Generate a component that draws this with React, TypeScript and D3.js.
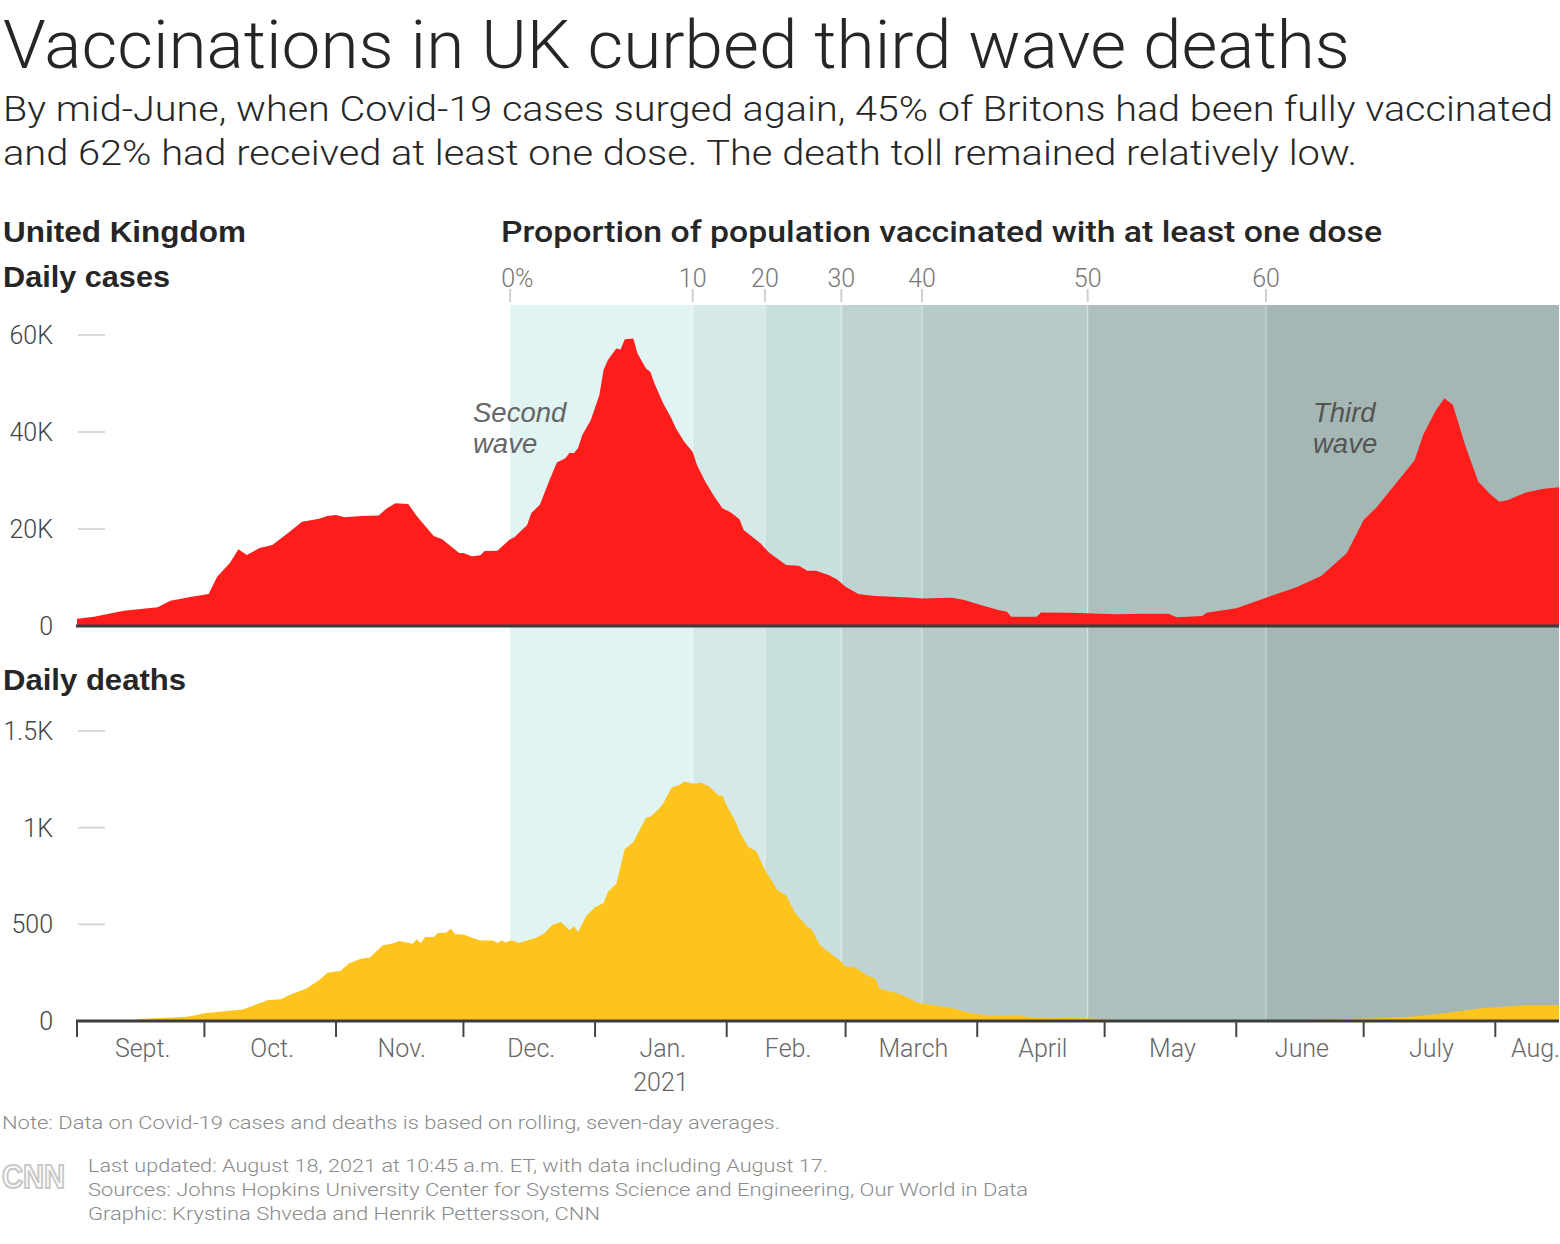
import React from "react";
import * as d3 from "d3";

const caseDates = [
  "2020-09-01","2020-09-05","2020-09-12","2020-09-20","2020-09-23","2020-09-28","2020-10-02","2020-10-04","2020-10-07","2020-10-09",
  "2020-10-11","2020-10-14","2020-10-17","2020-10-21","2020-10-24","2020-10-28","2020-10-30","2020-11-01","2020-11-03","2020-11-07",
  "2020-11-11","2020-11-13","2020-11-15","2020-11-18","2020-11-20","2020-11-24","2020-11-26","2020-11-30","2020-12-01","2020-12-03",
  "2020-12-05","2020-12-06","2020-12-09","2020-12-12","2020-12-13","2020-12-16","2020-12-17","2020-12-19","2020-12-21","2020-12-23",
  "2020-12-25","2020-12-26","2020-12-27","2020-12-28","2020-12-29","2020-12-31","2021-01-02","2021-01-03","2021-01-04","2021-01-06",
  "2021-01-07","2021-01-08","2021-01-10","2021-01-11","2021-01-13","2021-01-14","2021-01-15","2021-01-17","2021-01-19","2021-01-20",
  "2021-01-22","2021-01-24","2021-01-25","2021-01-27","2021-01-29","2021-01-31","2021-02-02","2021-02-04","2021-02-05","2021-02-09",
  "2021-02-11","2021-02-15","2021-02-18","2021-02-20","2021-02-22","2021-02-25","2021-02-27","2021-03-01","2021-03-04","2021-03-08",
  "2021-03-12","2021-03-16","2021-03-19","2021-03-26","2021-03-29","2021-04-02","2021-04-06","2021-04-08","2021-04-09","2021-04-15",
  "2021-04-16","2021-04-23","2021-05-04","2021-05-10","2021-05-16","2021-05-18","2021-05-24","2021-05-25","2021-06-01","2021-06-08",
  "2021-06-15","2021-06-21","2021-06-27","2021-07-01","2021-07-04","2021-07-07","2021-07-13","2021-07-15","2021-07-18","2021-07-20",
  "2021-07-22","2021-07-25","2021-07-28","2021-07-31","2021-08-02","2021-08-04","2021-08-08","2021-08-12","2021-08-16",
];
const caseValues = [
  1500,1900,3150,3850,5200,6050,6600,10150,13000,15850,
  14650,16100,16700,19400,21500,22100,22700,22900,22400,22700,
  22800,24300,25300,25150,22700,18550,17900,15050,15050,14400,
  14600,15450,15500,17900,18300,20800,23300,25000,29500,33700,
  34600,35700,35600,36700,39400,42500,47600,52800,54800,57200,
  57000,59100,59300,56200,53100,52400,50000,46000,42800,40800,
  38000,35900,33200,29700,26800,24300,23400,22000,19800,17000,
  15100,12600,12400,11400,11400,10500,9600,8100,6600,6200,
  6050,5900,5650,5850,5350,4300,3300,2950,1900,1900,
  2800,2750,2400,2550,2550,1800,2050,2750,3650,5850,
  7950,10300,15000,21850,24450,27700,34200,39400,44500,46950,
  45600,37000,29750,27000,25600,26000,27500,28250,28600,
];

const deathDates = [
  "2020-09-01","2020-09-14","2020-09-16","2020-09-27","2020-10-01","2020-10-10","2020-10-16","2020-10-19","2020-10-21","2020-10-25",
  "2020-10-28","2020-10-30","2020-11-02","2020-11-04","2020-11-07","2020-11-09","2020-11-12","2020-11-14","2020-11-16","2020-11-19",
  "2020-11-20","2020-11-21","2020-11-22","2020-11-24","2020-11-25","2020-11-27","2020-11-28","2020-11-29","2020-12-01","2020-12-03",
  "2020-12-05","2020-12-08","2020-12-09","2020-12-10","2020-12-11","2020-12-12","2020-12-13","2020-12-14","2020-12-18","2020-12-20",
  "2020-12-22","2020-12-24","2020-12-26","2020-12-27","2020-12-28","2020-12-30","2021-01-01","2021-01-03","2021-01-04","2021-01-06",
  "2021-01-08","2021-01-10","2021-01-13","2021-01-14","2021-01-16","2021-01-17","2021-01-19","2021-01-21","2021-01-22","2021-01-24",
  "2021-01-26","2021-01-28","2021-01-30","2021-01-31","2021-02-01","2021-02-03","2021-02-04","2021-02-06","2021-02-08","2021-02-10",
  "2021-02-13","2021-02-15","2021-02-17","2021-02-20","2021-02-21","2021-02-23","2021-02-27","2021-02-28","2021-03-01","2021-03-03",
  "2021-03-06","2021-03-08","2021-03-09","2021-03-14","2021-03-18","2021-03-25","2021-03-28","2021-03-30","2021-04-05","2021-04-10",
  "2021-04-14","2021-04-27","2021-05-03","2021-06-16","2021-06-25","2021-07-04","2021-07-12","2021-07-21","2021-07-28","2021-08-03",
  "2021-08-08","2021-08-16",
];
const deathValues = [
  3,5,10,22,40,60,108,112,134,168,
  211,249,259,297,323,328,392,400,414,400,
  421,404,435,435,455,457,478,450,448,431,
  417,416,404,416,406,417,414,404,429,452,
  498,512,469,490,460,546,589,610,667,710,
  890,924,1053,1057,1096,1122,1208,1222,1239,1228,
  1232,1211,1168,1165,1113,1036,981,902,878,782,
  675,650,563,486,473,392,323,306,280,280,
  237,220,168,138,94,71,57,43,26,29,
  19,14,5,5,9,14,22,43,65,74,
  81,82,
];

const vaxLevels = ["0%", "10", "20", "30", "40", "50", "60"];
const vaxStartDates = ["2020-12-12","2021-01-24","2021-02-10","2021-02-28","2021-03-19","2021-04-27","2021-06-08"];
const vaxColors = ["#e0f4f3","#d4e9e8","#c9dfdd","#bfd4d2","#b6cbc8","#adc0be","#a5b7b4"];

const monthStarts = ["2020-09-01","2020-10-01","2020-11-01","2020-12-01","2021-01-01","2021-02-01","2021-03-01","2021-04-01","2021-05-01","2021-06-01","2021-07-01","2021-08-01","2021-09-01"];
const monthLabels = ["Sept.","Oct.","Nov.","Dec.","Jan.","Feb.","March","April","May","June","July","Aug."];

const caseTicks = [0, 20000, 40000, 60000];
const caseTickLabels = ["0", "20K", "40K", "60K"];
const deathTicks = [0, 500, 1000, 1500];
const deathTickLabels = ["0", "500", "1K", "1.5K"];

const parse = d3.utcParse("%Y-%m-%d");

export default function App() {
  const W = 1560, H = 1244;
  const x = d3.scaleUtc().domain([parse("2020-09-01")!, parse("2021-08-16")!]).range([77, 1559]);
  const yC = d3.scaleLinear().domain([0, 60000]).range([626, 335]);
  const yD = d3.scaleLinear().domain([0, 1500]).range([1021, 731]);

  const cases = caseDates.map((d, i) => ({ date: parse(d)!, v: caseValues[i] }));
  const deaths = deathDates.map((d, i) => ({ date: parse(d)!, v: deathValues[i] }));

  const areaC = d3.area<{ date: Date; v: number }>().x(d => x(d.date)).y0(yC(0)).y1(d => yC(d.v));
  const areaD = d3.area<{ date: Date; v: number }>().x(d => x(d.date)).y0(yD(0)).y1(d => yD(d.v));

  const bandTop = 305, bandBottom = yD(0);
  const xEnd = x.range()[1];
  const bands = vaxStartDates.map((d, i) => {
    const x0 = x(parse(d)!);
    const x1 = i < vaxStartDates.length - 1 ? x(parse(vaxStartDates[i + 1])!) : xEnd;
    return { x0, x1, color: vaxColors[i], label: vaxLevels[i] };
  });

  const font = "Roboto, 'Liberation Sans', Arial, sans-serif";
  const boldFont = "'Liberation Sans', Arial, sans-serif";

  return (
    <svg width={W} height={H} style={{ position: "absolute", left: 0, top: 0, background: "#fff" }} fontFamily={font}>
      {/* Title */}
      <text x={3} y={68} fontSize={66} fontWeight={300} fill="#262626" textLength={1347} lengthAdjust="spacingAndGlyphs">
        Vaccinations in UK curbed third wave deaths
      </text>
      <text x={3} y={121} fontSize={35} fontWeight={300} fill="#262626" textLength={1550} lengthAdjust="spacingAndGlyphs">
        By mid-June, when Covid-19 cases surged again, 45% of Britons had been fully vaccinated
      </text>
      <text x={3} y={165} fontSize={35} fontWeight={300} fill="#262626" textLength={1354} lengthAdjust="spacingAndGlyphs">
        and 62% had received at least one dose. The death toll remained relatively low.
      </text>

      {/* Section headers */}
      <text x={3} y={242} fontSize={30} fontWeight={700} fill="#262626" fontFamily={boldFont} textLength={243} lengthAdjust="spacingAndGlyphs">United Kingdom</text>
      <text x={3} y={287} fontSize={30} fontWeight={700} fill="#262626" fontFamily={boldFont} textLength={167} lengthAdjust="spacingAndGlyphs">Daily cases</text>
      <text x={3} y={690} fontSize={30} fontWeight={700} fill="#262626" fontFamily={boldFont} textLength={183} lengthAdjust="spacingAndGlyphs">Daily deaths</text>
      <text x={501} y={242} fontSize={30} fontWeight={500} fill="#262626" textLength={881} lengthAdjust="spacingAndGlyphs">
        Proportion of population vaccinated with at least one dose
      </text>

      {/* Vaccination bands */}
      {bands.map((b, i) => (
        <rect key={"b" + i} x={b.x0} y={bandTop} width={b.x1 - b.x0} height={bandBottom - bandTop} fill={b.color} />
      ))}
      {bands.map((b, i) => (
        <g key={"bt" + i}>
          {i > 0 && <line x1={b.x0} x2={b.x0} y1={bandTop} y2={bandBottom} stroke="#ffffff" strokeOpacity={0.3} strokeWidth={1.5} />}
          <line x1={b.x0} x2={b.x0} y1={289} y2={302} stroke="#cfcfcf" strokeWidth={2} />
          <text x={i === 0 ? b.x0 - 9 : b.x0} y={287} fontSize={25} fontWeight={300} fill="#777" textAnchor={i === 0 ? "start" : "middle"}>
            {b.label}
          </text>
        </g>
      ))}

      {/* Areas */}
      <path d={areaC(cases)!} fill="#fd1d1b" />
      <path d={areaD(deaths)!} fill="#fec41e" />

      {/* Y ticks cases */}
      {caseTicks.map((t, i) => (
        <g key={"ct" + i}>
          {t > 0 && <line x1={78} x2={105} y1={yC(t)} y2={yC(t)} stroke="#d9d9d9" strokeWidth={2} />}
          <text x={53} y={yC(t) + 9} fontSize={25} fontWeight={300} fill="#444" textAnchor="end">{caseTickLabels[i]}</text>
        </g>
      ))}
      {deathTicks.map((t, i) => (
        <g key={"dt" + i}>
          {t > 0 && <line x1={78} x2={105} y1={yD(t)} y2={yD(t)} stroke="#d9d9d9" strokeWidth={2} />}
          <text x={53} y={yD(t) + 9} fontSize={25} fontWeight={300} fill="#444" textAnchor="end">{deathTickLabels[i]}</text>
        </g>
      ))}

      {/* Baselines */}
      <line x1={76} x2={xEnd} y1={yC(0)} y2={yC(0)} stroke="#3c3c3c" strokeWidth={3} />
      <line x1={76} x2={xEnd} y1={yD(0)} y2={yD(0)} stroke="#3c3c3c" strokeWidth={3} />

      {/* X axis */}
      {monthLabels.map((lab, i) => {
        const xm = x(parse(monthStarts[i])!);
        const xn = x(parse(monthStarts[i + 1])!);
        const mid = (xm + xn) / 2 + 2;
        const isLast = i === monthLabels.length - 1;
        return (
          <g key={"m" + i}>
            <line x1={xm} x2={xm} y1={yD(0)} y2={yD(0) + 16} stroke="#444" strokeWidth={2} />
            <text x={isLast ? 1560 : mid} y={1057} fontSize={25} fontWeight={300} fill="#666" textAnchor={isLast ? "end" : "middle"}>
              {lab}
            </text>
            {lab === "Jan." && (
              <text x={mid - 2} y={1091} fontSize={25} fontWeight={300} fill="#666" textAnchor="middle">2021</text>
            )}
          </g>
        );
      })}

      {/* Annotations */}
      <g fontStyle="italic" fontSize={27.5} fill="#666" fontWeight={400} fontFamily={boldFont}>
        <text x={473} y={422}>Second</text>
        <text x={473} y={453}>wave</text>
        <text x={1313} y={422} fill="#555">Third</text>
        <text x={1313} y={453} fill="#555">wave</text>
      </g>

      {/* Footer */}
      <text x={2} y={1129} fontSize={19} fontWeight={300} fill="#8a8a8a" textLength={778} lengthAdjust="spacingAndGlyphs">
        Note: Data on Covid-19 cases and deaths is based on rolling, seven-day averages.
      </text>
      <text x={2} y={1188} fontSize={34} fontWeight={700} fill="#fff" stroke="#c8c8c8" strokeWidth={2.2} fontFamily={boldFont} textLength={63} lengthAdjust="spacingAndGlyphs">CNN</text>
      <text x={88} y={1172} fontSize={19} fontWeight={300} fill="#8a8a8a" textLength={740} lengthAdjust="spacingAndGlyphs">
        Last updated: August 18, 2021 at 10:45 a.m. ET, with data including August 17.
      </text>
      <text x={88} y={1196} fontSize={19} fontWeight={300} fill="#8a8a8a" textLength={940} lengthAdjust="spacingAndGlyphs">
        Sources: Johns Hopkins University Center for Systems Science and Engineering, Our World in Data
      </text>
      <text x={88} y={1220} fontSize={19} fontWeight={300} fill="#8a8a8a" textLength={512} lengthAdjust="spacingAndGlyphs">
        Graphic: Krystina Shveda and Henrik Pettersson, CNN
      </text>
    </svg>
  );
}
